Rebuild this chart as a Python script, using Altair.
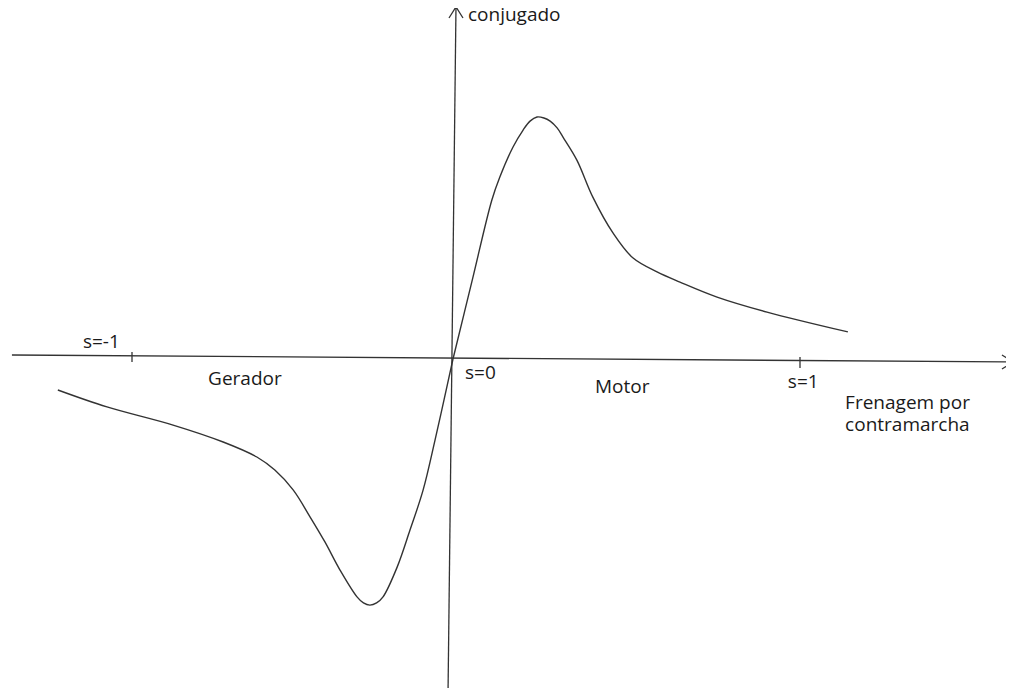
import altair as alt
import pandas as pd

# --- data (slip s, torque T; torque normalised so motor peak = 1) ---
motor_s = [0.0, 0.056, 0.112, 0.135, 0.173, 0.202, 0.222, 0.242, 0.262, 0.280, 0.300,
           0.317, 0.357, 0.403, 0.461, 0.519, 0.588, 0.654, 0.761, 0.905, 1.138]
motor_T = [0.0, 0.329, 0.657, 0.752, 0.876, 0.946, 0.983, 1.0, 0.996, 0.983, 0.955,
           0.917, 0.822, 0.669, 0.521, 0.417, 0.360, 0.318, 0.256, 0.194, 0.112]

gen_s = [-1.231, -1.078, -0.872, -0.716, -0.611, -0.555, -0.498, -0.445, -0.399, -0.352,
         -0.299, -0.279, -0.259, -0.238, -0.218, -0.174, -0.134, -0.093, -0.056, -0.028, 0.0]
gen_T = [-0.128, -0.198, -0.273, -0.343, -0.405, -0.459, -0.541, -0.653, -0.756, -0.872,
         -0.983, -1.008, -1.017, -1.008, -0.983, -0.860, -0.707, -0.541, -0.335, -0.169, 0.0]

# axes (hand drawn, slightly tilted)
haxis_s = [-1.374, 1.614]
haxis_T = [0.0165, -0.0124]
vaxis_s = [0.0086, -0.0156]
vaxis_T = [1.455, -1.393]
harrow_s = [1.582, 1.614, 1.582]
harrow_T = [0.0165, -0.0124, -0.0413]
varrow_s = [-0.0125, 0.0086, 0.0288]
varrow_T = [1.409, 1.455, 1.409]
tick1_s = [-1.0, -1.0]
tick1_T = [0.029, -0.012]
tick2_s = [1.0, 1.0]
tick2_T = [0.008, -0.037]

label_text = ["conjugado", "s=-1", "Gerador", "s=0", "Motor", "s=1",
              "Frenagem por\ncontramarcha", "s"]
label_s = [0.0432, -1.153, -0.763, 0.0346, 0.409, 0.965, 1.130, 1.602]
label_T = [1.397, 0.0455, -0.107, -0.0826, -0.140, -0.120, -0.207, -0.120]

# --- tables ---
curves = pd.concat([
    pd.DataFrame({"s": motor_s, "T": motor_T, "seg": "motor", "i": range(len(motor_s))}),
    pd.DataFrame({"s": gen_s, "T": gen_T, "seg": "gen", "i": range(len(gen_s))}),
])

segs = []
for name, xs, ys in [("h", haxis_s, haxis_T), ("v", vaxis_s, vaxis_T),
                     ("ha", harrow_s, harrow_T), ("va", varrow_s, varrow_T),
                     ("t1", tick1_s, tick1_T), ("t2", tick2_s, tick2_T)]:
    segs.append(pd.DataFrame({"s": xs, "T": ys, "seg": name, "i": range(len(xs))}))
axes_df = pd.concat(segs)

labels = pd.DataFrame({"s": label_s, "T": label_T, "text": label_text})

xscale = alt.Scale(domain=[-1, 0, 1], range=[124, 445, 792], nice=False, zero=False)
yscale = alt.Scale(domain=[0, 1], range=[351, 109], nice=False, zero=False)

X = alt.X("s:Q", scale=xscale, axis=None)
Y = alt.Y("T:Q", scale=yscale, axis=None)

curve_layer = alt.Chart(curves).mark_line(
    interpolate="catmull-rom", color="#333333", strokeWidth=1.4
).encode(x=X, y=Y, detail="seg:N", order="i:Q")

axes_layer = alt.Chart(axes_df).mark_line(
    color="#333333", strokeWidth=1.3
).encode(x=X, y=Y, detail="seg:N", order="i:Q")

text_layer = alt.Chart(labels).mark_text(
    align="left", baseline="alphabetic", font="Open Sans", fontSize=19,
    color="#1a1a1a", lineBreak="\n", lineHeight=22
).encode(x=X, y=Y, text="text:N")

chart = alt.layer(curve_layer, axes_layer, text_layer).properties(
    width=998, height=680, autosize="none", padding=0
).configure_view(stroke=None)

chart.save("out.html", embed_options={"renderer": "svg", "actions": False})
